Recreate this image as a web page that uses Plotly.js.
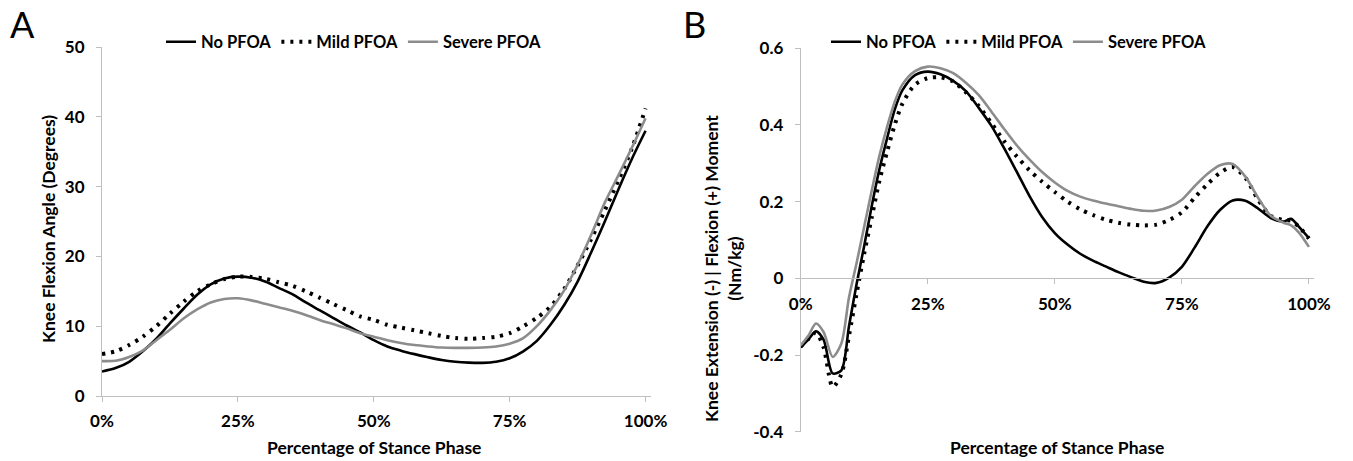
<!DOCTYPE html>
<html>
<head>
<meta charset="utf-8">
<script src="https://cdn.plot.ly/plotly-3.0.1.min.js"></script>
<style>html,body{margin:0;padding:0;background:#fff;}#chart{width:1353px;height:461px;}</style>
</head>
<body>
<div id="chart"></div>
<script>
// ---------- Panel A: knee flexion angle (degrees) ----------
const stanceA = [0,2.5,5,7.5,10,12.5,15,17.5,20,22.5,25,27.5,30,32.5,35,37.5,40,42.5,45,47.5,50,52.5,55,57.5,60,62.5,65,67.5,70,72.5,75,77.5,80,82.5,85,87.5,90,92.5,95,97.5,100];
const angleNo = [3.5,4.0,4.9,6.4,8.2,10.4,12.5,14.5,16.0,16.85,17.1,16.95,16.4,15.5,14.6,13.4,12.3,11.2,10.1,9.1,8.0,7.1,6.5,6.0,5.55,5.15,4.9,4.78,4.75,4.9,5.4,6.4,7.9,10.2,13.0,16.4,20.6,25.0,29.6,34.0,38.0];
const angleMild = [6.0,6.4,7.3,8.5,10.0,11.8,13.5,15.0,16.0,16.75,17.1,17.05,16.8,16.3,15.8,15.0,14.1,13.2,12.3,11.4,10.9,10.2,9.8,9.4,9.0,8.6,8.3,8.2,8.3,8.5,9.0,10.0,11.2,12.8,15.3,18.7,22.5,26.6,30.9,35.5,41.2];
const angleSevere = [5.0,5.05,5.6,6.5,8.0,9.5,11.1,12.4,13.4,13.9,14.0,13.7,13.2,12.7,12.2,11.6,10.9,10.3,9.7,9.0,8.5,8.0,7.6,7.3,7.1,6.95,6.9,6.9,6.95,7.1,7.5,8.3,10.0,12.3,15.1,18.8,23.1,27.7,31.6,35.6,39.8];

// ---------- Panel B: knee moment (Nm/kg) ----------
const stanceB = [0,1.5,3,4.5,6.3,8,9.5,11,12.5,14,15.5,17,18.5,20,22.5,25,27.5,30,32.5,35,37.5,40,42.5,45,47.5,50,52.5,55,57.5,60,62.5,65,67.5,70,72.5,75,77.5,80,82.5,85,87.5,90,92.5,95,96.5,98,100];
const momentNo = [-0.180,-0.160,-0.138,-0.160,-0.248,-0.240,-0.125,-0.015,0.085,0.19,0.285,0.365,0.44,0.49,0.53,0.539,0.532,0.515,0.488,0.445,0.398,0.34,0.278,0.215,0.16,0.118,0.088,0.064,0.046,0.031,0.016,0.003,-0.009,-0.012,0.002,0.030,0.080,0.135,0.178,0.203,0.202,0.182,0.157,0.148,0.155,0.135,0.105];
const momentMild = [-0.178,-0.158,-0.142,-0.180,-0.283,-0.250,-0.150,-0.040,0.065,0.16,0.255,0.33,0.40,0.455,0.505,0.522,0.524,0.513,0.485,0.45,0.405,0.358,0.318,0.282,0.252,0.225,0.20,0.18,0.165,0.153,0.145,0.14,0.138,0.14,0.152,0.172,0.21,0.245,0.275,0.29,0.262,0.205,0.163,0.152,0.15,0.135,0.104];
const momentSevere = [-0.175,-0.150,-0.118,-0.140,-0.205,-0.170,-0.050,0.040,0.135,0.23,0.32,0.395,0.46,0.505,0.54,0.552,0.548,0.535,0.51,0.478,0.435,0.39,0.347,0.31,0.277,0.25,0.228,0.213,0.203,0.195,0.188,0.181,0.176,0.177,0.186,0.205,0.24,0.272,0.295,0.298,0.265,0.21,0.163,0.145,0.138,0.12,0.082];

const seriesNames = ['No PFOA','Mild PFOA','Severe PFOA'];
const xTickVals = [0,25,50,75,100];
const xTickText = ['0%','25%','50%','75%','100%'];
const yTickValsA = [0,10,20,30,40,50];
const yTickTextA = ['0','10','20','30','40','50'];
const yTickValsB = [-0.4,-0.2,0,0.2,0.4,0.6];
const yTickTextB = ['-0.4','-0.2','0','0.2','0.4','0.6'];

const W = 1353, H = 461;
const px = v => v / W;
const py = v => 1 - v / H;

const styleNo = {color:'#000000', width:2.6};
const styleMild = {color:'#000000', width:4, dash:'3px,6px'};
const styleSevere = {color:'#8c8c8c', width:2.6};

function tr(x, y, name, line, xa, ya, leg){
  return {x:x, y:y, name:name, type:'scatter', mode:'lines',
    line:Object.assign({shape:'spline', smoothing:0.8}, line),
    xaxis:xa, yaxis:ya, legend:leg, hoverinfo:'skip'};
}

const data = [
  tr(stanceA, angleNo, seriesNames[0], styleNo, 'x', 'y', 'legend'),
  tr(stanceA, angleMild, seriesNames[1], styleMild, 'x', 'y', 'legend'),
  tr(stanceA, angleSevere, seriesNames[2], styleSevere, 'x', 'y', 'legend'),
  tr(stanceB, momentNo, seriesNames[0], styleNo, 'x2', 'y2', 'legend2'),
  tr(stanceB, momentMild, seriesNames[1], styleMild, 'x2', 'y2', 'legend2'),
  tr(stanceB, momentSevere, seriesNames[2], styleSevere, 'x2', 'y2', 'legend2')
];

const FONT = 'Lato';
const tickFont = {family:FONT, size:17, color:'#000', weight:'bold'};
const titleFont = {family:FONT, size:17.5, color:'#000', weight:'bold'};
const legendFont = {family:FONT, size:16.5, color:'#000', weight:'bold'};

const axisCommon = {
  showline:true, linecolor:'#bfbfbf', linewidth:1,
  ticks:'outside', tickcolor:'#bfbfbf', ticklen:5, tickwidth:1,
  showgrid:false, zeroline:false, fixedrange:true,
  tickfont:tickFont, automargin:false
};

const layout = {
  width:W, height:H,
  margin:{l:0, r:0, t:0, b:0},
  paper_bgcolor:'#ffffff', plot_bgcolor:'#ffffff',
  font:{family:FONT, size:16, color:'#000', weight:'bold'},
  showlegend:true,
  xaxis:Object.assign({}, axisCommon, {domain:[px(102), px(651)], range:[0,101], anchor:'y',
    tickmode:'array', tickvals:xTickVals, ticktext:xTickText, ticklabelstandoff:5}),
  yaxis:Object.assign({}, axisCommon, {domain:[py(396), py(47)], range:[0,50], anchor:'x',
    tickmode:'array', tickvals:yTickValsA, ticktext:yTickTextA, ticklabelstandoff:8}),
  xaxis2:Object.assign({}, axisCommon, {domain:[px(800.7), px(1314)], range:[0,101], anchor:'free',
    position:py(278.3), tickmode:'array', tickvals:xTickVals, ticktext:xTickText, ticklabelstandoff:5}),
  yaxis2:Object.assign({}, axisCommon, {domain:[py(431.7), py(48.2)], range:[-0.4,0.6], anchor:'x2',
    tickmode:'array', tickvals:yTickValsB, ticktext:yTickTextB, ticklabelstandoff:8}),
  legend:{orientation:'h', x:px(161), y:py(42), xanchor:'left', yanchor:'middle',
    font:legendFont, bgcolor:'rgba(0,0,0,0)', itemwidth:30, tracegroupgap:0},
  legend2:{orientation:'h', x:px(826), y:py(42), xanchor:'left', yanchor:'middle',
    font:legendFont, bgcolor:'rgba(0,0,0,0)', itemwidth:30, tracegroupgap:0},
  annotations:[
    {text:'A', x:px(8), y:py(24), xref:'paper', yref:'paper', xanchor:'left', yanchor:'middle', showarrow:false,
      font:{family:FONT, size:36, color:'#000', weight:'normal'}},
    {text:'B', x:px(681), y:py(24), xref:'paper', yref:'paper', xanchor:'left', yanchor:'middle', showarrow:false,
      font:{family:FONT, size:36, color:'#000', weight:'normal'}},
    {text:'Knee Flexion Angle (Degrees)', x:px(48), y:py(229), xref:'paper', yref:'paper', textangle:-90,
      xanchor:'center', yanchor:'middle', showarrow:false, font:titleFont},
    {text:'Percentage of Stance Phase', x:px(374), y:py(447), xref:'paper', yref:'paper',
      xanchor:'center', yanchor:'middle', showarrow:false, font:titleFont},
    {text:'Knee Extension (-) | Flexion (+) Moment<br>(Nm/kg)', x:px(723), y:py(269), xref:'paper', yref:'paper', textangle:-90,
      xanchor:'center', yanchor:'middle', showarrow:false, font:titleFont},
    {text:'Percentage of Stance Phase', x:px(1057), y:py(447), xref:'paper', yref:'paper',
      xanchor:'center', yanchor:'middle', showarrow:false, font:titleFont}
  ]
};

Plotly.newPlot('chart', data, layout, {displayModeBar:false, staticPlot:true});
</script>
</body>
</html>
